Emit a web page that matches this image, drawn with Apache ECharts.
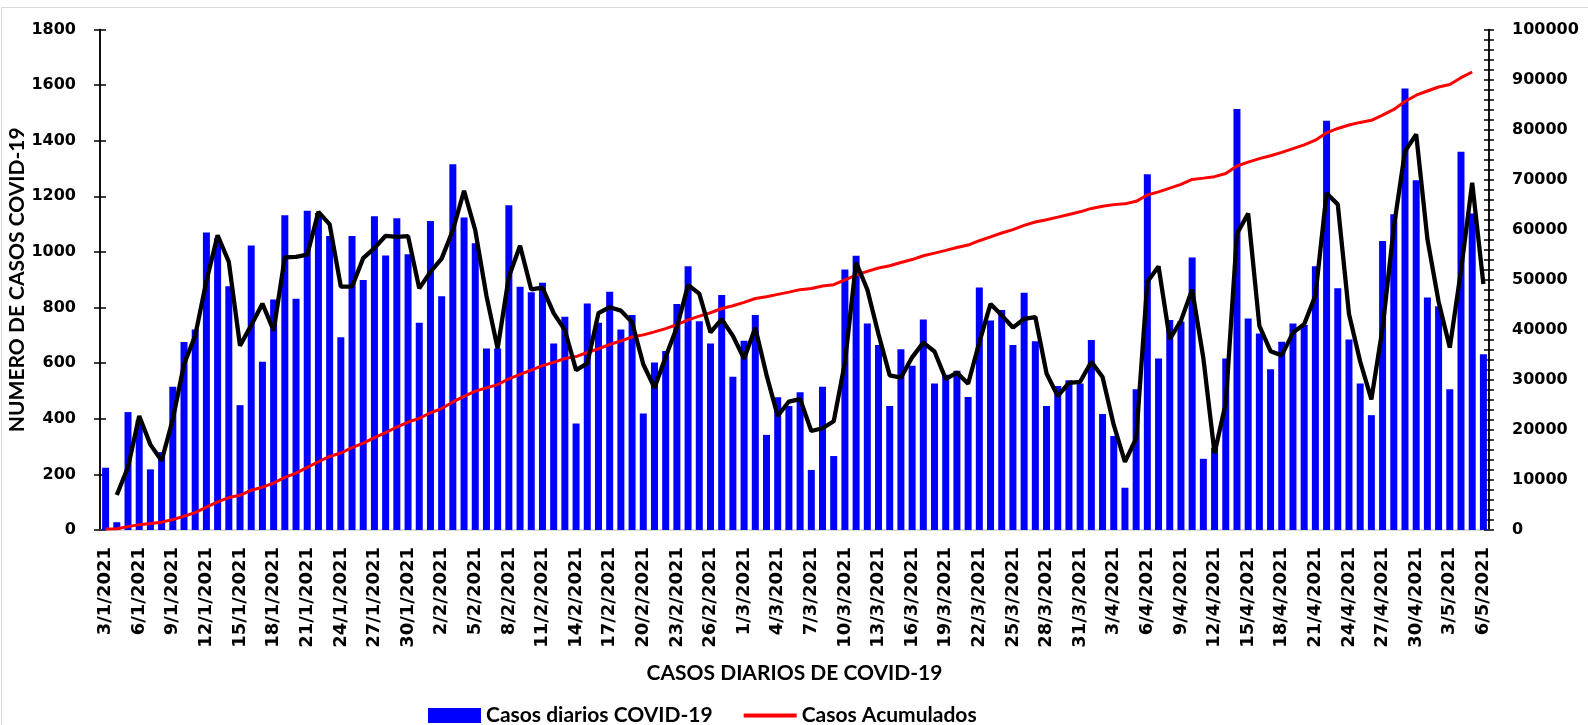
<!DOCTYPE html>
<html><head><meta charset="utf-8">
<script src="https://cdn.jsdelivr.net/npm/echarts@6/dist/echarts.min.js"></script>
<style>html,body{margin:0;padding:0;background:#fff}#c{width:1588px;height:725px}</style>
</head><body><div id="c"></div>
<script>
const fechas = [
"3/1/2021","4/1/2021","5/1/2021","6/1/2021","7/1/2021","8/1/2021","9/1/2021","10/1/2021","11/1/2021","12/1/2021",
"13/1/2021","14/1/2021","15/1/2021","16/1/2021","17/1/2021","18/1/2021","19/1/2021","20/1/2021","21/1/2021","22/1/2021",
"23/1/2021","24/1/2021","25/1/2021","26/1/2021","27/1/2021","28/1/2021","29/1/2021","30/1/2021","31/1/2021",
"1/2/2021","2/2/2021","3/2/2021","4/2/2021","5/2/2021","6/2/2021","7/2/2021","8/2/2021","9/2/2021","10/2/2021",
"11/2/2021","12/2/2021","13/2/2021","14/2/2021","15/2/2021","16/2/2021","17/2/2021","18/2/2021","19/2/2021","20/2/2021",
"21/2/2021","22/2/2021","23/2/2021","24/2/2021","25/2/2021","26/2/2021","27/2/2021","28/2/2021",
"1/3/2021","2/3/2021","3/3/2021","4/3/2021","5/3/2021","6/3/2021","7/3/2021","8/3/2021","9/3/2021","10/3/2021",
"11/3/2021","12/3/2021","13/3/2021","14/3/2021","15/3/2021","16/3/2021","17/3/2021","18/3/2021","19/3/2021","20/3/2021",
"21/3/2021","22/3/2021","23/3/2021","24/3/2021","25/3/2021","26/3/2021","27/3/2021","28/3/2021","29/3/2021","30/3/2021","31/3/2021",
"1/4/2021","2/4/2021","3/4/2021","4/4/2021","5/4/2021","6/4/2021","7/4/2021","8/4/2021","9/4/2021","10/4/2021",
"11/4/2021","12/4/2021","13/4/2021","14/4/2021","15/4/2021","16/4/2021","17/4/2021","18/4/2021","19/4/2021","20/4/2021",
"21/4/2021","22/4/2021","23/4/2021","24/4/2021","25/4/2021","26/4/2021","27/4/2021","28/4/2021","29/4/2021","30/4/2021",
"1/5/2021","2/5/2021","3/5/2021","4/5/2021","5/5/2021","6/5/2021"];

const casosDiarios = [
224,28,424,395,218,280,515,676,721,1070,
1050,877,449,1023,605,829,1132,832,1148,1140,
1057,693,1057,899,1128,987,1121,992,745,1111,
841,1315,1124,1031,653,653,1168,875,855,889,
671,767,383,815,745,857,721,773,419,602,
644,813,949,751,671,845,551,681,773,342,
477,446,495,216,515,266,937,986,743,665,
446,650,591,757,527,558,573,478,872,753,
791,665,853,679,446,518,539,527,683,417,
338,152,506,1279,617,755,750,980,256,296,
617,1514,761,707,578,677,743,737,949,1472,
869,685,527,413,1039,1136,1588,1258,836,805,
506,1360,1138,632];

const casosAcumulados = [
224,252,676,1071,1289,1569,2084,2760,3481,4551,
5601,6478,6927,7950,8555,9384,10516,11348,12496,13636,
14693,15386,16443,17342,18470,19457,20578,21570,22315,23426,
24267,25582,26706,27737,28390,29043,30211,31086,31941,32830,
33501,34268,34651,35466,36211,37068,37789,38562,38981,39583,
40227,41040,41989,42740,43411,44256,44807,45488,46261,46603,
47080,47526,48021,48237,48752,49018,49955,50941,51684,52349,
52795,53445,54036,54793,55320,55878,56451,56929,57801,58554,
59345,60010,60863,61542,61988,62506,63045,63572,64255,64672,
65010,65162,65668,66947,67564,68319,69069,70049,70305,70601,
71218,72732,73493,74200,74778,75455,76198,76935,77884,79356,
80225,80910,81437,81850,82889,84025,85613,86871,87707,88512,
89018,90378,91516];

const mediaMovil = [
null,126,226,410,307,249,398,596,699,896,
1060,964,663,736,814,717,981,982,990,1144,
1099,875,875,978,1014,1058,1054,1057,869,928,
976,1078,1220,1078,842,653,911,1022,865,872,
780,719,575,599,780,801,789,747,596,511,
623,729,881,850,711,758,698,616,727,558,
410,462,471,356,366,391,602,962,865,704,
556,548,621,674,642,543,566,526,675,813,
772,728,759,766,563,482,529,533,605,550,
378,245,329,893,948,686,753,865,618,276,
457,1066,1138,734,643,628,710,740,843,1211,
1171,777,606,470,726,1088,1362,1423,1047,821,
656,933,1249,885];

const ejeIzq = {min: 0, max: 1800, interval: 200};
const ejeDer = {min: 0, max: 100000, interval: 10000};

const tickFont = 'DejaVu Sans';
const titleFont = 'Lato';

const chart = echarts.init(document.getElementById('c'), null, {renderer: 'canvas'});

const baseY = (pos, cfg, inside, labels) => ({
  type: 'value', position: pos, min: cfg.min, max: cfg.max, interval: cfg.interval,
  axisLine: {show: true, lineStyle: {color: '#000', width: 1.5}},
  axisTick: {show: true, inside: inside, length: pos === 'left' ? 6 : 5, lineStyle: {color: '#000', width: 1.5}},
  splitLine: {show: false},
  axisLabel: {show: labels, color: '#000', fontFamily: tickFont, fontWeight: 'bold', fontSize: 16,
    margin: pos === 'left' ? 24 : 23, formatter: v => String(v)}
});

const yL0 = baseY('left', ejeIzq, false, true);
yL0.name = 'NUMERO DE CASOS COVID-19';
yL0.nameLocation = 'middle';
yL0.nameRotate = 90;
yL0.nameGap = 72;
yL0.nameMoveOverlap = false;
yL0.nameTextStyle = {fontFamily: titleFont, fontWeight: 'bold', fontSize: 21, color: '#000'};
const yL1 = baseY('left', ejeIzq, true, false);
const yR0 = baseY('right', ejeDer, false, true);
yR0.minorTick = {show: true, splitNumber: 5, length: 5, lineStyle: {color: '#000', width: 1.5}};
const yR1 = baseY('right', ejeDer, true, false);
yR1.minorTick = {show: true, splitNumber: 5, length: 5, lineStyle: {color: '#000', width: 1.5}};

chart.setOption({
  animation: false,
  backgroundColor: '#fff',
  grid: {left: 100, right: 99, top: 29.5, bottom: 195, containLabel: false, outerBoundsMode: 'none'},
  graphic: [{type: 'rect', silent: true, z: -10, shape: {x: 1.5, y: 7.5, width: 1600, height: 740},
    style: {fill: 'none', stroke: '#d9d9d9', lineWidth: 1}}],
  legend: {
    data: [{name: 'Casos diarios COVID-19', icon: 'rect'},
           {name: 'Casos Acumulados', icon: 'path://M0 0 H53 V4 H0 Z'}],
    left: 423, top: 700, itemWidth: 53, itemHeight: 15, itemGap: 31,
    textStyle: {fontFamily: titleFont, fontWeight: 'bold', fontSize: 21, color: '#000'}
  },
  xAxis: {
    type: 'category', data: fechas, boundaryGap: true,
    axisLine: {show: true, lineStyle: {color: '#d9d9d9', width: 2}},
    axisTick: {show: false},
    axisLabel: {interval: 2, rotate: 90, color: '#000', fontFamily: tickFont, fontWeight: 'bold', fontSize: 18, margin: 17},
    name: 'CASOS DIARIOS DE COVID-19', nameLocation: 'middle', nameGap: 133, nameMoveOverlap: false,
    nameTextStyle: {fontFamily: titleFont, fontWeight: 'bold', fontSize: 21, color: '#000'}
  },
  yAxis: [yL0, yL1, yR0, yR1],
  series: [
    {name: 'Casos diarios COVID-19', type: 'bar', yAxisIndex: 0, data: casosDiarios, barWidth: 7,
      itemStyle: {color: '#0000ff'}},
    {name: 'Casos Acumulados', type: 'line', yAxisIndex: 2, data: casosAcumulados, symbol: 'none',
      lineStyle: {color: '#ff0000', width: 3}, itemStyle: {color: '#ff0000'}, z: 3},
    {name: 'Media móvil', type: 'line', yAxisIndex: 0, data: mediaMovil, symbol: 'none',
      lineStyle: {color: '#000', width: 4.3}, itemStyle: {color: '#000'}, z: 4}
  ]
});
</script></body></html>
